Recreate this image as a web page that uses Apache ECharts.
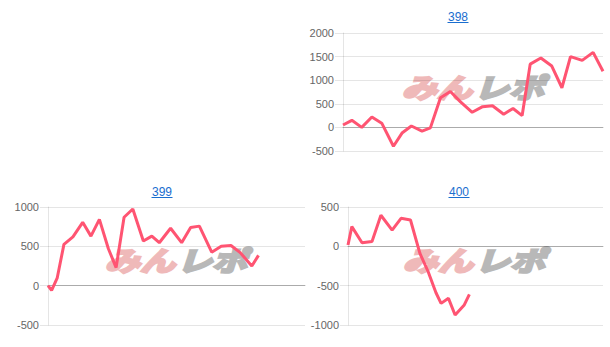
<!DOCTYPE html>
<html><head><meta charset="utf-8">
<script src="https://cdn.jsdelivr.net/npm/echarts@6/dist/echarts.min.js"></script>
<style>html,body{margin:0;padding:0;background:#fff}#c{width:610px;height:347px}</style>
</head><body><div id="c"></div>
<script>
// chart titles
const titles = ['398', '399', '400'];
// x positions (percent of the run) and cumulative values for each machine
const x398 = [0, 3.4, 7.2, 11.1, 14.9, 19.4, 22.7, 26.3, 30.4, 33.6, 37.5, 41.3, 45.2, 49.7, 53.7, 57.5, 61.8, 65.4, 68.9, 72.0, 76.1, 80.3, 84.2, 87.5, 92.0, 96.2, 100];
const v398 = [50, 150, 0, 220, 90, -400, -120, 30, -80, -10, 630, 760, 540, 320, 440, 460, 280, 400, 250, 1340, 1470, 1300, 840, 1500, 1420, 1590, 1190];
const x399 = [0, 1.4, 3.6, 6.2, 9.7, 13.5, 16.7, 20.0, 23.5, 26.5, 29.6, 33.0, 37.1, 40.4, 43.3, 47.7, 52.0, 55.5, 58.9, 63.7, 67.4, 71.2, 74.8, 79.3, 81.9];
const v399 = [0, -60, 100, 525, 620, 805, 630, 843, 470, 230, 870, 975, 567, 630, 546, 730, 546, 740, 757, 425, 500, 510, 420, 250, 385];
const x400 = [0, 1.5, 5.5, 9.4, 12.9, 17.3, 20.8, 24.5, 28.2, 31.4, 34.5, 36.5, 39.4, 42.0, 45.5, 47.6];
const v400 = [17, 250, 45, 60, 395, 207, 356, 335, -90, -320, -590, -725, -661, -873, -750, -610];
// y axis ranges and tick step
const yMins = [-500, -500, -1000];
const yMaxs = [2000, 1000, 500];
const yStep = 500;
// watermark text
const markA = 'みん';
const markB = 'レポ';

const xs = [x398, x399, x400];
const vs = [v398, v399, v400];

const grids = [
  {left: 343, top: 33, width: 260, height: 118},
  {left: 48, top: 207, width: 257, height: 118},
  {left: 348, top: 207, width: 255, height: 118}
];
const titlePos = [[458, 16.5], [162, 191.5], [459, 191.5]];
const markPos = [[473, 86], [176, 259], [474, 259]];

const graphic = [];
titles.forEach((t, i) => {
  const [cx, cy] = titlePos[i];
  graphic.push({type: 'text', x: cx, y: cy, z: 5, style: {text: t, fill: '#1a6ecf', fontSize: 12, fontFamily: 'Liberation Sans, Arial, sans-serif', align: 'center', verticalAlign: 'middle'}});
  graphic.push({type: 'line', z: 5, shape: {x1: cx - 10.5, y1: cy + 6, x2: cx + 10.5, y2: cy + 6}, style: {stroke: '#1a6ecf', lineWidth: 1}});
  const [mx, my] = markPos[i];
  graphic.push({type: 'text', x: mx - 1, y: my, z: 0, scaleX: 1.3, style: {text: markA, fill: '#efb9b9', stroke: '#efb9b9', lineWidth: 2.5, fontSize: 27, fontWeight: 'bold', fontStyle: 'italic', fontFamily: 'Noto Sans CJK JP', align: 'right', verticalAlign: 'middle'}});
  graphic.push({type: 'text', x: mx + 1, y: my, z: 0, scaleX: 1.3, style: {text: markB, fill: '#b8b8b8', stroke: '#b8b8b8', lineWidth: 2.5, fontSize: 27, fontWeight: 'bold', fontStyle: 'italic', fontFamily: 'Noto Sans CJK JP', align: 'left', verticalAlign: 'middle'}});
});

const option = {
  animation: false,
  grid: grids,
  graphic: graphic,
  xAxis: grids.map((g, i) => ({
    gridIndex: i, type: 'value', min: 0, max: 100,
    axisLine: {show: true, onZero: true, lineStyle: {color: 'rgba(0,0,0,0.25)', width: 1}},
    axisTick: {show: false}, axisLabel: {show: false}, splitLine: {show: false}
  })),
  yAxis: grids.map((g, i) => ({
    gridIndex: i, type: 'value', min: yMins[i], max: yMaxs[i], interval: yStep,
    axisLine: {show: true, lineStyle: {color: 'rgba(0,0,0,0.1)'}},
    axisTick: {show: true, length: 8, lineStyle: {color: 'rgba(0,0,0,0.1)'}},
    axisLabel: {color: '#666', fontSize: 11, margin: 9, fontFamily: 'Liberation Sans, Arial, sans-serif', formatter: v => String(v)},
    splitLine: {show: true, lineStyle: {color: 'rgba(0,0,0,0.1)'}}
  })),
  series: vs.map((v, i) => ({
    type: 'line', xAxisIndex: i, yAxisIndex: i,
    data: v.map((y, k) => [xs[i][k], y]),
    showSymbol: false, symbol: 'none',
    lineStyle: {color: '#ff5472', width: 3},
    z: 3
  }))
};
const chart = echarts.init(document.getElementById('c'), null, {renderer: 'svg'});
chart.setOption(option);
</script>
</body></html>
